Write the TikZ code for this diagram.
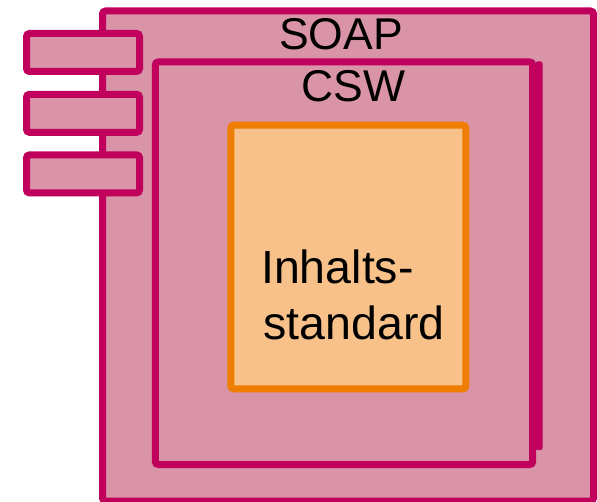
\documentclass[tikz,border=0pt]{standalone}
\usepackage{fontspec}
\setmainfont{Liberation Sans}
\definecolor{magline}{RGB}{192,0,92}
\definecolor{pinkfill}{RGB}{218,148,168}
\definecolor{orline}{RGB}{238,125,0}
\definecolor{orfill}{RGB}{248,193,138}
\begin{document}
\begin{tikzpicture}[x=1pt,y=-1pt,
  magbox/.style={draw=magline, fill=pinkfill, line width=7pt, rounded corners=3pt, inner sep=0pt, outer sep=0pt},
  orbox/.style={draw=orline, fill=orfill, line width=7pt, rounded corners=3pt, inner sep=0pt, outer sep=0pt},
  bigtext/.style={font=\fontsize{44.5}{53}\selectfont, inner sep=0pt, anchor=base west},
  intext/.style={font=\fontsize{46.5}{56}\selectfont, inner sep=0pt, anchor=base west}]
\useasboundingbox (0,0) rectangle (597,502);
\node[magbox, minimum width=491pt, minimum height=490pt] (soap) at (348,256) {};
\node[magbox, minimum width=113pt, minimum height=38pt] (tab1) at (83,52.5) {};
\node[magbox, minimum width=113pt, minimum height=38pt] (tab2) at (83,113.3) {};
\node[magbox, minimum width=113pt, minimum height=38pt] (tab3) at (83,173.9) {};
\node[magbox, minimum width=377.4pt, minimum height=402.5pt] (csw) at (344,263.25) {};
\fill[magline, rounded corners=2pt] (535.5,61.5) rectangle (542.5,450);
\node[orbox, minimum width=235pt, minimum height=263.6pt] (inhalt) at (348.3,257) {};
\node[bigtext] (soaplabel) at (279,50) {SOAP};
\node[bigtext] (cswlabel) at (301,101.7) {CSW};
\node[intext] (line1) at (261,283.3) {Inhalts-};
\node[intext] (line2) at (263.5,340) {standard};
\end{tikzpicture}
\end{document}
